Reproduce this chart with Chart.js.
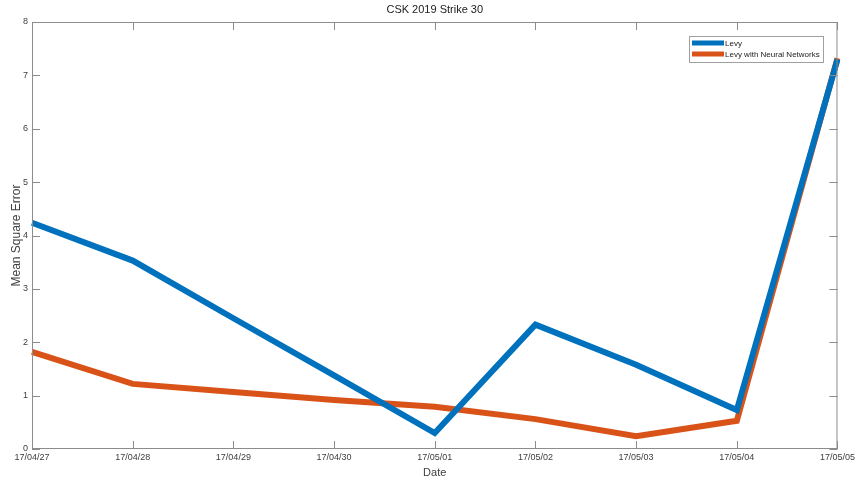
<!DOCTYPE html>
<html>
<head>
<meta charset="utf-8">
<script src="https://cdn.jsdelivr.net/npm/chart.js@4.4.0/dist/chart.umd.min.js"></script>
<style>
  html, body { margin: 0; padding: 0; background: #fff; }
  #wrap { width: 858px; height: 480px; }
</style>
</head>
<body>
<div id="wrap"><canvas id="myChart" width="858" height="480"></canvas></div>
<script>
// values
const dates = ["17/04/27", "17/04/28", "17/04/29", "17/04/30", "17/05/01", "17/05/02", "17/05/03", "17/05/04", "17/05/05"];
const levy = [4.24, 3.53, 2.45, 1.38, 0.30, 2.33, 1.58, 0.73, 7.30];
const levyNN = [1.82, 1.22, 1.07, 0.92, 0.79, 0.56, 0.24, 0.53, 7.32];
const yTicks = [0, 1, 2, 3, 4, 5, 6, 7, 8];
const chartTitle = "CSK 2019 Strike 30";

const axisColor = "#8c8c8c";
const textColor = "#404040";
const font = "Liberation Sans, Arial, sans-serif";

// matlab style box with inward ticks, title over the axes, and the legend box
const boxPlugin = {
  id: "box",
  afterDraw(chart) {
    const ctx = chart.ctx;
    const a = chart.chartArea;
    const xs = chart.scales.x, ys = chart.scales.y;
    ctx.save();
    ctx.strokeStyle = axisColor;
    ctx.lineWidth = 1;
    ctx.strokeRect(a.left + 0.5, a.top + 0.5, a.right - a.left - 1, a.bottom - a.top - 1);
    ctx.beginPath();
    dates.forEach((d, i) => {
      const px = Math.round(xs.getPixelForValue(i)) + 0.5;
      ctx.moveTo(px, a.bottom); ctx.lineTo(px, a.bottom - 8);
      ctx.moveTo(px, a.top); ctx.lineTo(px, a.top + 8);
    });
    yTicks.forEach(v => {
      const py = Math.round(ys.getPixelForValue(v)) + 0.5;
      ctx.moveTo(a.left, py); ctx.lineTo(a.left + 8, py);
      ctx.moveTo(a.right, py); ctx.lineTo(a.right - 8, py);
    });
    ctx.stroke();

    // title centred on the axes
    ctx.fillStyle = "#222";
    ctx.font = "11px " + font;
    ctx.textAlign = "center";
    ctx.textBaseline = "middle";
    ctx.fillText(chartTitle, (a.left + a.right) / 2, a.top - 12);

    // legend
    const lx = 689, ly = 36, lw = 134, lh = 26;
    ctx.textAlign = "left";
    ctx.fillStyle = "#fff";
    ctx.fillRect(lx, ly, lw, lh);
    ctx.strokeStyle = "#a0a0a0";
    ctx.strokeRect(lx + 0.5, ly + 0.5, lw, lh);
    ctx.font = "8px " + font;
    chart.data.datasets.forEach((ds, i) => {
      const yy = ly + 7 + i * 11;
      ctx.strokeStyle = ds.borderColor;
      ctx.lineWidth = 5;
      ctx.beginPath();
      ctx.moveTo(lx + 3, yy); ctx.lineTo(lx + 35, yy);
      ctx.stroke();
      ctx.fillStyle = "#222";
      ctx.fillText(ds.label, lx + 36, yy + 0.5);
    });
    ctx.restore();
  }
};

const ctx = document.getElementById("myChart").getContext("2d");
new Chart(ctx, {
  type: "line",
  data: {
    labels: dates,
    datasets: [{
      label: "Levy",
      data: levy,
      borderColor: "#0072BD",
      borderWidth: 6,
      pointRadius: 0,
      tension: 0
    }, {
      label: "Levy with Neural Networks",
      data: levyNN,
      borderColor: "#D95319",
      borderWidth: 6,
      pointRadius: 0,
      tension: 0
    }]
  },
  options: {
    responsive: false,
    animation: false,
    layout: { padding: { left: 0, right: 20, top: 22, bottom: 0 } },
    plugins: {
      legend: { display: false },
      tooltip: { enabled: false },
      title: { display: false }
    },
    scales: {
      x: {
        offset: false,
        grid: { display: false, drawTicks: false },
        border: { display: false },
        ticks: { color: textColor, font: { family: font, size: 9 }, maxRotation: 0, autoSkip: false, padding: 3 },
        title: { display: true, text: "Date", color: textColor, font: { family: font, size: 11 }, padding: { top: 1, bottom: 0 } },
        afterFit(scale) { scale.height = 31; }
      },
      y: {
        min: 0,
        max: 8,
        grid: { display: false, drawTicks: false },
        border: { display: false },
        ticks: { stepSize: 1, color: textColor, font: { family: font, size: 9 }, padding: 4 },
        title: { display: true, text: "Mean Square Error", color: textColor, font: { family: font, size: 12 }, padding: { top: 9, bottom: 0 } },
        afterFit(scale) { scale.width = 32; }
      }
    }
  },
  plugins: [boxPlugin]
});
</script>
</body>
</html>
